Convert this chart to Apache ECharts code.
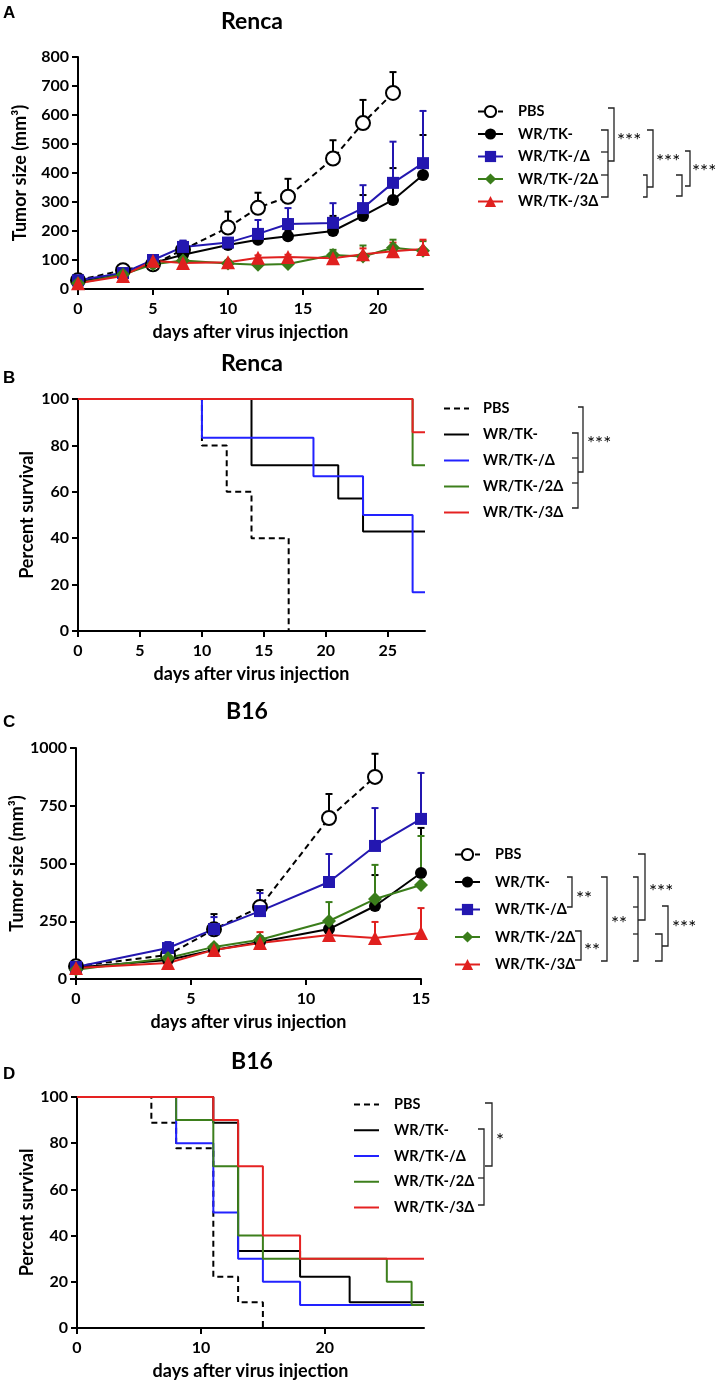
<!DOCTYPE html>
<html><head><meta charset="utf-8">
<script src="https://cdn.jsdelivr.net/npm/echarts@6/dist/echarts.min.js"></script>
<style>html,body{margin:0;padding:0;background:#fff}#c{width:719px;height:1385px}</style>
</head><body><div id="c"></div>
<script>
const groups = ['PBS','WR/TK-','WR/TK-/Δ','WR/TK-/2Δ','WR/TK-/3Δ'];

// Panel A: Renca tumor growth (mean, SEM)
const rencaDays = [0,3,5,7,10,12,14,17,19,21,23];
const rencaPBS    = [30,65,85,135,212,280,318,450,572,676];
const rencaPBSsem = [5,8,10,30,55,52,62,63,80,72];
const rencaTK     = [25,50,90,118,152,170,182,200,252,307,393];
const rencaTKsem  = [3,5,8,20,12,15,18,52,72,110,138];
const rencaD1     = [30,55,100,145,160,190,224,228,279,366,434];
const rencaD1sem  = [4,6,8,22,12,48,55,68,79,142,180];
const rencaD2     = [20,50,85,98,88,84,86,117,112,142,132];
const rencaD2sem  = [3,5,8,8,8,6,6,18,38,28,33];
const rencaD3     = [20,45,97,90,92,108,110,106,120,130,138];
const rencaD3sem  = [3,5,6,6,6,8,8,10,20,30,32];

// Panel B: Renca survival (time, percent)
const survB_PBS_t = [0,10,12,14,17];        const survB_PBS_p = [100,80,60,40,0];
const survB_TK_t  = [0,14,21,23,28];        const survB_TK_p  = [100,71.4,57.1,42.9,42.9];
const survB_D1_t  = [0,10,19,23,27,28];     const survB_D1_p  = [100,83.3,66.7,50,16.7,16.7];
const survB_D2_t  = [0,27,28];              const survB_D2_p  = [100,71.4,71.4];
const survB_D3_t  = [0,27,28];              const survB_D3_p  = [100,85.7,85.7];

// Panel C: B16 tumor growth (mean, SEM)
const b16Days = [0,4,6,8,11,13,15];
const b16PBS    = [55,104,215,312,697,875];
const b16PBSsem = [5,8,66,73,104,100];
const b16TK     = [50,82,126,160,216,316,459];
const b16TKsem  = [4,8,10,12,20,134,195];
const b16D1     = [52,134,216,294,420,576,693];
const b16D1sem  = [5,26,52,78,121,164,199];
const b16D2     = [40,91,139,170,251,346,407];
const b16D2sem  = [4,8,10,15,82,148,212];
const b16D3     = [48,69,126,156,190,177,199];
const b16D3sem  = [4,6,10,47,30,70,108];

// Panel D: B16 survival (time, percent)
const survD_PBS_t = [0,6,8,11,13,15];          const survD_PBS_p = [100,88.9,77.8,22.2,11.1,0];
const survD_TK_t  = [0,11,13,18,22,28];        const survD_TK_p  = [100,88.9,33.3,22.2,11.1,11.1];
const survD_D1_t  = [0,8,11,13,15,18,28];      const survD_D1_p  = [100,80,50,30,20,10,10];
const survD_D2_t  = [0,8,11,13,15,25,27,28];   const survD_D2_p  = [100,90,70,40,30,20,10,10];
const survD_D3_t  = [0,11,13,15,18,28];        const survD_D3_p  = [100,90,70,40,30,30];

const FONT = 'Lato';
const C = {k:'#000000', blue:'#2317b0', green:'#3a7d1a', red:'#e0201f',
           sblue:'#2222ff', sgreen:'#3d7f1c', sred:'#e52222'};

function pairs(xs, ys){ return ys.map((v,i)=>[xs[i], v]); }

function growth(panel, gi, days, means, gName, color, symbol, size, dashed, open){
  return {
    type:'line', name: panel+':'+gName, xAxisIndex:gi, yAxisIndex:gi, z:3,
    data: pairs(days, means), symbol: symbol, symbolSize: size, showSymbol:true,
    lineStyle:{color:color, width:2, type: dashed?[6,4]:'solid'},
    itemStyle: open ? {color:'#fff', borderColor:color, borderWidth:2} : {color:color, borderWidth:0},
    emphasis:{disabled:true}, animation:false
  };
}
function errBars(gi, days, means, sems, color){
  return {
    type:'custom', xAxisIndex:gi, yAxisIndex:gi, z:2, silent:true, animation:false,
    data: means.map((m,i)=>[days[i], m, m+sems[i]]),
    renderItem(params, api){
      const p0 = api.coord([api.value(0), api.value(1)]);
      const p1 = api.coord([api.value(0), api.value(2)]);
      return {type:'group', children:[
        {type:'line', shape:{x1:p0[0],y1:p0[1],x2:p1[0],y2:p1[1]}, style:{stroke:color,lineWidth:2}},
        {type:'line', shape:{x1:p1[0]-3.5,y1:p1[1],x2:p1[0]+3.5,y2:p1[1]}, style:{stroke:color,lineWidth:2}}
      ]};
    }
  };
}
function surv(panel, gi, ts, ps, gName, color, dashed){
  return {
    type:'line', name: panel+':'+gName, xAxisIndex:gi, yAxisIndex:gi, step:'end',
    data: pairs(ts, ps), symbol:'none', lineStyle:{color:color, width:2, type: dashed?[6,4]:'solid'},
    itemStyle:{color:color}, emphasis:{disabled:true}, animation:false
  };
}

const AXFS = 16, NAMEFS = 18;
function xAx(gi, max, ticks, name, gap){
  return {
    type:'value', gridIndex:gi, min:0, max:max, interval: ticks[1]-ticks[0],
    axisLine:{show:true, onZero:false, lineStyle:{color:'#000', width:2}},
    axisTick:{show:true, length:6, lineStyle:{color:'#000', width:2}, customValues: ticks},
    axisLabel:{customValues: ticks, color:'#000', fontFamily:FONT, fontWeight:'bold', fontSize:AXFS, margin:12,
               formatter: v => String(v)},
    splitLine:{show:false},
    name:name, nameLocation:'middle', nameGap:gap, nameMoveOverlap:false,
    nameTextStyle:{color:'#000', fontFamily:FONT, fontWeight:'bold', fontSize:NAMEFS}
  };
}
function yAx(gi, max, interval, name, gap){
  return {
    type:'value', gridIndex:gi, min:0, max:max, interval:interval,
    axisLine:{show:true, onZero:false, lineStyle:{color:'#000', width:2}},
    axisTick:{show:true, length:6, lineStyle:{color:'#000', width:2}},
    axisLabel:{color:'#000', fontFamily:FONT, fontWeight:'bold', fontSize:AXFS, margin:9,
               formatter: v => String(v)},
    splitLine:{show:false},
    name:name, nameLocation:'middle', nameGap:gap, nameRotate:90, nameMoveOverlap:false,
    nameTextStyle:{color:'#000', fontFamily:FONT, fontWeight:'bold', fontSize:NAMEFS}
  };
}
function legend(panel, left, top, gap, pad, plain){
  const l = {
    data: groups.map(g=>panel+':'+g), orient:'vertical', left:left, top:top,
    itemWidth:25, itemHeight:14, itemGap:gap, padding:0, selectedMode:false,
    formatter: n => '{t|' + n.slice(2) + '}',
    textStyle:{rich:{t:{padding:[0,0,0,pad], fontSize:14.5, lineHeight:14, fontWeight:'bold', fontFamily:FONT, color:'#000'}}}
  };
  if (plain) l.itemStyle = {opacity:0, borderWidth:0};
  return l;
}

// graphic helpers (annotation brackets, titles)
function pl(pts){ return {type:'polyline', silent:true, shape:{points:pts}, style:{stroke:'#222', lineWidth:1.3, fill:null}}; }
function txt(x, y, s, size, weight, align, family){
  return {type:'text', x:x, y:y, silent:true,
    style:{text:s, fill:'#000', fontSize:size, fontWeight:weight||'normal', fontFamily:family||FONT,
           textAlign:align||'left', textVerticalAlign:'middle', verticalAlign:'middle'}};
}
function sq(x0, x1, y0, y1){ return pl([[x0,y0],[x1,y0],[x1,y1],[x0,y1]]); }
function ticks(x0, x1, ys){ return ys.map(y=>pl([[x0,y],[x1,y]])); }

const STAR = 19;
const graphics = [
  txt(3, 13, 'A', 17, 'bold', 'left', 'Liberation Sans'),
  txt(3, 378, 'B', 17, 'bold', 'left', 'Liberation Sans'),
  txt(3, 722, 'C', 17, 'bold', 'left', 'Liberation Sans'),
  txt(3, 1074, 'D', 17, 'bold', 'left', 'Liberation Sans'),
  txt(252, 22, 'Renca', 23, 'bold', 'center'),
  txt(252, 364, 'Renca', 23, 'bold', 'center'),
  txt(247, 712, 'B16', 23, 'bold', 'center'),
  txt(252, 1062, 'B16', 23, 'bold', 'center'),
  // A brackets
  sq(601, 608, 130, 197), ...ticks(601, 608, [152, 175]),
  sq(608, 614, 108, 161),
  txt(617, 141, '***', STAR),
  sq(647, 653, 130, 187),
  sq(643, 647, 175, 197),
  txt(656, 162, '***', STAR),
  sq(685, 690, 151, 186),
  sq(676, 682, 175, 196),
  txt(692, 172, '***', STAR),
  // B brackets
  sq(572, 578, 433, 508), ...ticks(572, 578, [458, 483]),
  sq(578, 583, 407, 472),
  txt(587, 444, '***', STAR),
  // C brackets
  sq(567, 572, 877, 907), txt(576, 899, '**', STAR),
  sq(575, 581, 931, 960), txt(584, 951, '**', STAR),
  sq(601, 607, 877, 961), txt(611, 924, '**', STAR),
  sq(633, 638, 877, 961), ...ticks(633, 638, [907, 934]),
  sq(638, 645, 854, 920), txt(649, 892, '***', STAR),
  sq(655, 662, 934, 961),
  sq(662, 668, 906, 946), txt(672, 928, '***', STAR),
  // D brackets
  sq(478, 484, 1129, 1205), ...ticks(478, 484, [1178]),
  sq(485, 492, 1103, 1166),
  txt(496, 1141, '*', STAR)
];

const option = {
  backgroundColor:'#fff',
  animation:false,
  textStyle:{fontFamily:FONT},
  grid:[
    {left:78, top:57, width:345, height:232},
    {left:78, top:399, width:347, height:232},
    {left:76, top:748, width:345, height:231},
    {left:77, top:1097, width:347, height:231}
  ],
  xAxis:[
    xAx(0, 23, [0,5,10,15,20], 'days after virus injection', 34),
    xAx(1, 28, [0,5,10,15,20,25], 'days after virus injection', 34),
    xAx(2, 15, [0,5,10,15], 'days after virus injection', 34),
    xAx(3, 28, [0,10,20], 'days after virus injection', 34)
  ],
  yAxis:[
    yAx(0, 800, 100, 'Tumor size (mm³)', 49),
    yAx(1, 100, 20, 'Percent survival', 42),
    yAx(2, 1000, 250, 'Tumor size (mm³)', 50),
    yAx(3, 100, 20, 'Percent survival', 41)
  ],
  legend:[
    legend('A', 477, 104, 7.5, 10, false),
    legend('B', 443, 401, 11, 9, true),
    legend('C', 454, 847, 12.5, 10, false),
    legend('D', 353, 1097, 10.75, 10, true)
  ],
  graphic: graphics,
  series:[
    errBars(0, rencaDays, rencaPBS, rencaPBSsem, C.k),
    errBars(0, rencaDays, rencaTK, rencaTKsem, C.k),
    errBars(0, rencaDays, rencaD1, rencaD1sem, C.blue),
    errBars(0, rencaDays, rencaD2, rencaD2sem, C.green),
    errBars(0, rencaDays, rencaD3, rencaD3sem, C.red),
    growth('A', 0, rencaDays, rencaPBS, groups[0], C.k, 'circle', 14, true, true),
    growth('A', 0, rencaDays, rencaTK, groups[1], C.k, 'circle', 12, false, false),
    growth('A', 0, rencaDays, rencaD1, groups[2], C.blue, 'rect', 12, false, false),
    growth('A', 0, rencaDays, rencaD2, groups[3], C.green, 'diamond', 14, false, false),
    growth('A', 0, rencaDays, rencaD3, groups[4], C.red, 'triangle', 14, false, false),

    surv('B', 1, survB_PBS_t, survB_PBS_p, groups[0], C.k, true),
    surv('B', 1, survB_TK_t, survB_TK_p, groups[1], C.k, false),
    surv('B', 1, survB_D1_t, survB_D1_p, groups[2], C.sblue, false),
    surv('B', 1, survB_D2_t, survB_D2_p, groups[3], C.sgreen, false),
    surv('B', 1, survB_D3_t, survB_D3_p, groups[4], C.sred, false),

    errBars(2, b16Days, b16PBS, b16PBSsem, C.k),
    errBars(2, b16Days, b16TK, b16TKsem, C.k),
    errBars(2, b16Days, b16D1, b16D1sem, C.blue),
    errBars(2, b16Days, b16D2, b16D2sem, C.green),
    errBars(2, b16Days, b16D3, b16D3sem, C.red),
    growth('C', 2, b16Days, b16PBS, groups[0], C.k, 'circle', 14, true, true),
    growth('C', 2, b16Days, b16TK, groups[1], C.k, 'circle', 12, false, false),
    growth('C', 2, b16Days, b16D1, groups[2], C.blue, 'rect', 12, false, false),
    growth('C', 2, b16Days, b16D2, groups[3], C.green, 'diamond', 14, false, false),
    growth('C', 2, b16Days, b16D3, groups[4], C.red, 'triangle', 14, false, false),

    surv('D', 3, survD_PBS_t, survD_PBS_p, groups[0], C.k, true),
    surv('D', 3, survD_TK_t, survD_TK_p, groups[1], C.k, false),
    surv('D', 3, survD_D1_t, survD_D1_p, groups[2], C.sblue, false),
    surv('D', 3, survD_D2_t, survD_D2_p, groups[3], C.sgreen, false),
    surv('D', 3, survD_D3_t, survD_D3_p, groups[4], C.sred, false)
  ]
};
const chart = echarts.init(document.getElementById('c'), null, {renderer:'canvas'});
chart.setOption(option);
</script></body></html>
